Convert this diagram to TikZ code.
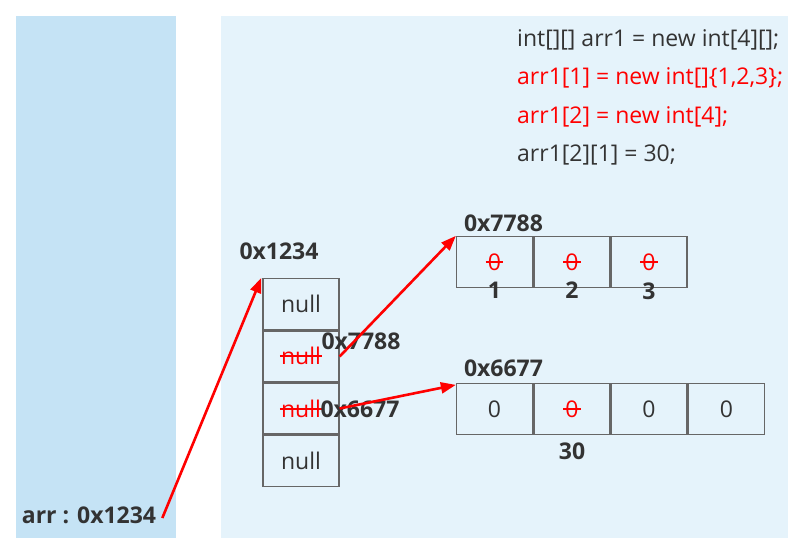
\documentclass[tikz,border=0pt]{standalone}
\usepackage{fontspec}
\setmainfont{Open Sans}
\usetikzlibrary{arrows.meta}
\definecolor{leftbg}{HTML}{C5E3F5}
\definecolor{rightbg}{HTML}{E5F3FB}
\definecolor{txt}{HTML}{333333}
\definecolor{boxline}{HTML}{666666}
\definecolor{redc}{HTML}{FF0000}
\tikzset{
  cell/.style={draw=boxline, line width=1.3pt, minimum width=76pt, minimum height=51pt, inner sep=0pt, text=txt, font=\fontsize{23}{27}\selectfont},
  lbl/.style={text=txt, font=\fontsize{23}{27}\selectfont\bfseries, inner sep=0pt},
  code/.style={font=\fontsize{23}{27}\selectfont, inner sep=0pt, anchor=west},
  struck/.style={text=redc, font=\fontsize{23}{27}\selectfont, inner sep=0pt},
  strike/.style={draw=redc, line width=1.3pt},
  ptr/.style={draw=redc, line width=2.6pt, -{Triangle[length=15pt,width=11pt]}}
}
\begin{document}
\begin{tikzpicture}[x=1pt,y=-1pt]
\useasboundingbox (0,0) rectangle (804,550);
\fill[white] (0,0) rectangle (804,550);
\fill[leftbg] (16,16) rectangle (176,538);
\fill[rightbg] (221,16) rectangle (788,538);
% code
\node[code, text=txt] (c1) at (517,40) {int[][] arr1 = new int[4][];};
\node[code, text=redc] (c2) at (517,78) {arr1[1] = new int[]\{1,2,3\};};
\node[code, text=redc] (c3) at (517,117) {arr1[2] = new int[4];};
\node[code, text=txt] (c4) at (517,155) {arr1[2][1] = 30;};
% outer array
\node[cell] (o1) at (301,304) {null};
\node[cell] (o2) at (301,356.5) {};
\node[cell] (o3) at (301,408.5) {};
\node[cell] (o4) at (301,461) {null};
\node[struck] (n2) at (301,356) {null};
\draw[strike] ([xshift=-1pt]n2.west) -- ([xshift=1pt]n2.east);
\node[struck] (n3) at (301,409) {null};
\draw[strike] ([xshift=-1pt]n3.west) -- ([xshift=1pt]n3.east);
\node[lbl] (l1234) at (279,251) {0x1234};
% top array
\node[cell] (a1) at (494.5,262) {};
\node[cell] (a2) at (572,262) {};
\node[cell] (a3) at (649,262) {};
\foreach \i/\x in {1/494.5,2/572,3/649}{
  \node[struck] (z\i) at (\x,262) {0};
  \draw[strike] ([xshift=-2pt]z\i.west) -- ([xshift=2pt]z\i.east);
}
\node[lbl] (v1) at (494.5,290) {1};
\node[lbl] (v2) at (572,290) {2};
\node[lbl] (v3) at (649,291) {3};
\node[lbl] (l7788) at (503.5,223) {0x7788};
% bottom array
\node[cell] (b1) at (494.5,409) {0};
\node[cell] (b2) at (572,409) {};
\node[cell] (b3) at (649,409) {0};
\node[cell] (b4) at (726.5,409) {0};
\node[struck] (zb) at (572,409) {0};
\draw[strike] ([xshift=-2pt]zb.west) -- ([xshift=2pt]zb.east);
\node[lbl] (v30) at (572,451) {30};
\node[lbl] (l6677) at (503.5,368) {0x6677};
% references in cells
\node[lbl] (r7788) at (361,341) {0x7788};
\node[lbl] (r6677) at (360,409) {0x6677};
% variable
\node[lbl] (arr) at (89,515) {arr : 0x1234};
\coordinate (arrend) at ([xshift=6pt,yshift=-3pt]arr.east);
% pointers
\draw[ptr] (arrend) -- ([xshift=-1pt]o1.north west);
\draw[ptr] (o2.east) -- (a1.north west);
\draw[ptr] (o3.east) -- ([yshift=-2pt]b1.north west);
\end{tikzpicture}
\end{document}
